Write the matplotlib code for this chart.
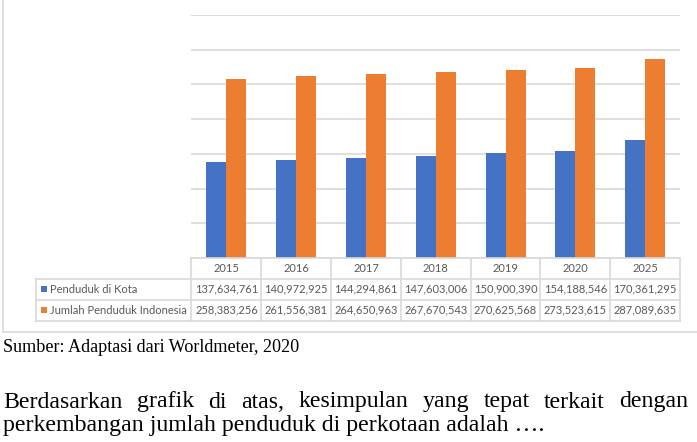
import matplotlib
matplotlib.use("Agg")
import matplotlib.pyplot as plt
import numpy as np
from matplotlib.lines import Line2D
from matplotlib.patches import Rectangle
from matplotlib.transforms import blended_transform_factory

years = ["2015", "2016", "2017", "2018", "2019", "2020", "2025"]
kota = [137634761, 140972925, 144294861, 147603006, 150900390, 154188546, 170361295]
indonesia = [258383256, 261556381, 264650963, 267670543, 270625568, 273523615, 287089635]
series_names = ["Penduduk di Kota", "Jumlah Penduduk Indonesia"]
colors = ["#4472C4", "#ED7D31"]
source_text = "Sumber: Adaptasi dari Worldmeter, 2020"
question_line1 = "Berdasarkan grafik di atas, kesimpulan yang tepat terkait dengan"
question_line2 = "perkembangan jumlah penduduk di perkotaan adalah \u2026."

W, H = 697, 442
fig = plt.figure(figsize=(W / 100, H / 100), dpi=100)
fig.patch.set_facecolor("white")

def fx(px):
    return px / W

def fy(py):
    return 1 - py / H

# chart frame (light gray)
fig.add_artist(Line2D([fx(2.5), fx(2.5)], [fy(-5), fy(331.5)], color="#d9d9d9", lw=1.2))
fig.add_artist(Line2D([fx(2.5), fx(700)], [fy(331.5), fy(331.5)], color="#d9d9d9", lw=1.2))

left_px, right_px, top_px, bottom_px = 191.5, 680, 15, 258
ax = fig.add_axes([fx(left_px), fy(bottom_px), (right_px - left_px) / W, (bottom_px - top_px) / H])
x = np.arange(len(years))
bw = 0.287
ax.bar(x - bw / 2, kota, width=bw, color=colors[0], zorder=3)
ax.bar(x + bw / 2, indonesia, width=bw, color=colors[1], zorder=3)
ax.set_xlim(-0.5, len(years) - 0.5)
ax.set_ylim(0, 350e6)
ax.set_yticks(np.arange(0, 350e6 + 1, 50e6))
ax.yaxis.grid(True, color="#d9d9d9", lw=1.2)
ax.set_axisbelow(True)
ax.tick_params(left=False, bottom=False, labelleft=False, labelbottom=False)
for s in ax.spines.values():
    s.set_visible(False)
ax.patch.set_alpha(0)

# data table
tr = blended_transform_factory(ax.transData, fig.transFigure)
grid_c = "#d9d9d9"
tc = "#595959"
tfont = ["Lato", "DejaVu Sans"]
tsize = 8.0
rows_y = [258, 279, 299.5, 320.5]
label_left = 36
edges = np.arange(len(years) + 1) - 0.5
# horizontal lines
fig.add_artist(Line2D([edges[0], edges[-1]], [fy(rows_y[0])] * 2, transform=tr, color=grid_c, lw=1.2))
for yy in rows_y[1:]:
    fig.add_artist(Line2D([fx(label_left), fx(right_px)], [fy(yy)] * 2, color=grid_c, lw=1.2))
# vertical lines
for e in edges:
    fig.add_artist(Line2D([e, e], [fy(rows_y[0]), fy(rows_y[-1])], transform=tr, color=grid_c, lw=1.2))
fig.add_artist(Line2D([fx(label_left)] * 2, [fy(rows_y[1]), fy(rows_y[-1])], color=grid_c, lw=1.2))

# header text
hy = (rows_y[0] + rows_y[1]) / 2
for i, yr in enumerate(years):
    fig.text(x[i], fy(hy), yr, transform=tr, ha="center", va="center", fontsize=tsize,
             family=tfont, color=tc)
for r, (name, vals) in enumerate(zip(series_names, [kota, indonesia])):
    cy = (rows_y[r + 1] + rows_y[r + 2]) / 2
    fig.add_artist(Rectangle((fx(40.5), fy(cy + 3)), 6 / W, 6 / H, transform=fig.transFigure,
                             color=colors[r], lw=0))
    fig.text(fx(49.5), fy(cy), name, ha="left", va="center", fontsize=tsize, family=tfont, color=tc)
    for i, v in enumerate(vals):
        fig.text(x[i], fy(cy), f"{v:,}", transform=tr, ha="center", va="center", fontsize=tsize,
                 family=tfont, color=tc)

# captions
renderer = fig.canvas.get_renderer()
serif = ["Liberation Serif", "DejaVu Serif"]

def fit_size(txt, target_w, base=12):
    t = fig.text(0, 0, txt, fontsize=base, family=serif)
    w = t.get_window_extent(renderer).width
    t.remove()
    return base * target_w / w

s1 = fit_size(source_text, 296)
fig.text(fx(3), fy(351.5), source_text, fontsize=s1, family=serif, color="black", va="baseline")

s2 = fit_size(question_line2, 542)
fig.text(fx(3), fy(431), question_line2, fontsize=s2, family=serif, color="black", va="baseline")

words = question_line1.split()
widths = []
for w_ in words:
    t = fig.text(0, 0, w_, fontsize=s2, family=serif)
    widths.append(t.get_window_extent(renderer).width)
    t.remove()
gap = (688 - 3 - sum(widths)) / (len(words) - 1)
xpos = 3
for w_, wd in zip(words, widths):
    fig.text(fx(xpos), fy(407.5), w_, fontsize=s2, family=serif, color="black", va="baseline")
    xpos += wd + gap

fig.savefig("out.png", dpi=100, facecolor="white")
